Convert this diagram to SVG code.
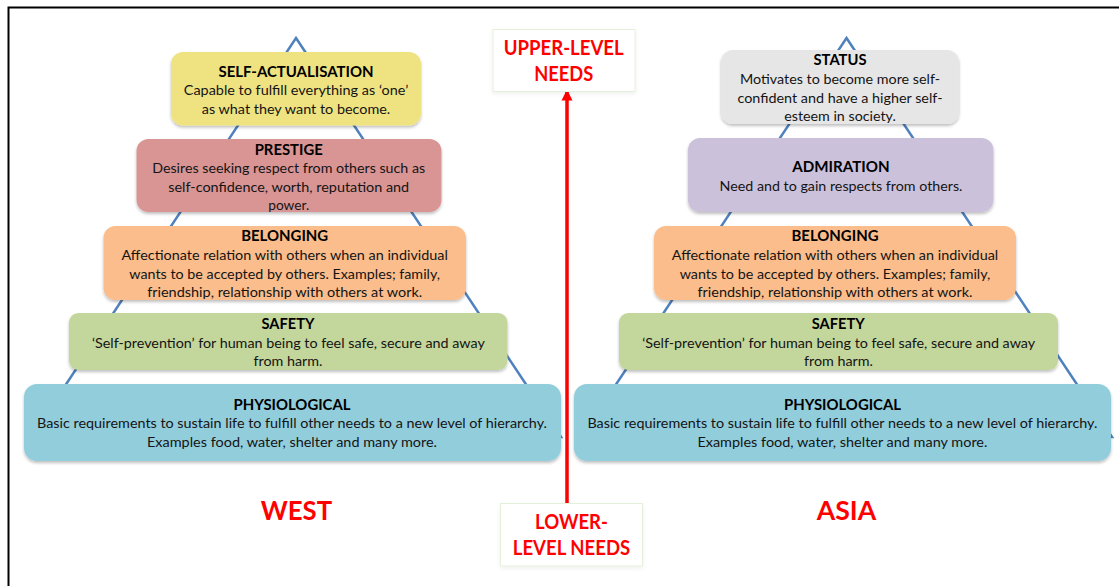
<svg xmlns="http://www.w3.org/2000/svg" width="1119" height="586" viewBox="0 0 1119 586">
<style>
text{font-family:Lato,"Open Sans","Liberation Sans",sans-serif;text-anchor:middle;fill:#141414}
.t{font-size:16px;font-weight:700;fill:#000}
.b{font-size:13.8px}
.r{font-size:20px;font-weight:700;fill:#f00}
.h{font-size:26.5px;font-weight:700;fill:#f00}
.tri{fill:none;stroke:#4f81bd;stroke-width:2.5}
.box{filter:url(#sh)}
.lab{fill:#fff;stroke:#e4f0dc;stroke-width:1;filter:url(#sh2)}
</style>
<defs>
<filter id="sh" x="-5%" y="-10%" width="110%" height="125%"><feDropShadow dx="0" dy="2" stdDeviation="1.5" flood-color="#000" flood-opacity="0.25"/></filter>
<filter id="sh2" x="-10%" y="-10%" width="120%" height="130%"><feDropShadow dx="0" dy="2" stdDeviation="2" flood-color="#000" flood-opacity="0.06"/></filter>
<marker id="ah" markerUnits="userSpaceOnUse" markerWidth="12" markerHeight="12" refX="11" refY="6" orient="auto"><path d="M0,0.5L11,6L0,11.5z" fill="#f00"/></marker>
</defs>
<rect width="1119" height="586" fill="#fff"/>
<path id="frame" d="M8.5,586V7.5H1119" fill="none" stroke="#000" stroke-width="2"/>
<path id="pyramid-west" class="tri" d="M296,38L561,437H31z"/>
<path id="pyramid-asia" class="tri" d="M846.5,38L1112,437H581z"/>
<g id="connectors"><line x1="567" y1="503" x2="567" y2="89.500" stroke="#f00" stroke-width="3.5" marker-end="url(#ah)"/></g>

<g id="west-self-actualisation"><rect class="box" x="171" y="52" width="250" height="73.500" rx="12" fill="#efe381"/>
<text class="t" x="296" y="76.500" textLength="155" lengthAdjust="spacingAndGlyphs">SELF-ACTUALISATION</text>
<text class="b" x="296" y="95" textLength="224.500" lengthAdjust="spacingAndGlyphs">Capable to fulfill everything as ‘one’</text>
<text class="b" x="296" y="114" textLength="188.500" lengthAdjust="spacingAndGlyphs">as what they want to become.</text></g>

<g id="west-prestige"><rect class="box" x="136.500" y="139" width="305" height="73" rx="12" fill="#d99594"/>
<text class="t" x="288.700" y="154.500" textLength="68" lengthAdjust="spacingAndGlyphs">PRESTIGE</text>
<text class="b" x="288.700" y="173" textLength="273" lengthAdjust="spacingAndGlyphs">Desires seeking respect from others such as</text>
<text class="b" x="288.700" y="191.500" textLength="241" lengthAdjust="spacingAndGlyphs">self-confidence, worth, reputation and</text>
<text class="b" x="288.700" y="210" textLength="41" lengthAdjust="spacingAndGlyphs">power.</text></g>

<g id="west-belonging"><rect class="box" x="103.500" y="226" width="362.500" height="74" rx="12" fill="#fbbd8b"/>
<text class="t" x="284.700" y="241" textLength="87" lengthAdjust="spacingAndGlyphs">BELONGING</text>
<text class="b" x="284.700" y="260" textLength="326.500" lengthAdjust="spacingAndGlyphs">Affectionate relation with others when an individual</text>
<text class="b" x="284.700" y="278.500" textLength="310.700" lengthAdjust="spacingAndGlyphs">wants to be accepted by others. Examples; family,</text>
<text class="b" x="284.700" y="297" textLength="275" lengthAdjust="spacingAndGlyphs">friendship, relationship with others at work.</text></g>

<g id="west-safety"><rect class="box" x="69" y="313" width="438.500" height="57" rx="9.500" fill="#c3d69b"/>
<text class="t" x="288" y="329" textLength="53" lengthAdjust="spacingAndGlyphs">SAFETY</text>
<text class="b" x="288.400" y="348" textLength="393" lengthAdjust="spacingAndGlyphs">‘Self-prevention’ for human being to feel safe, secure and away</text>
<text class="b" x="288" y="366" textLength="69" lengthAdjust="spacingAndGlyphs">from harm.</text></g>

<g id="west-physiological"><rect class="box" x="24" y="384" width="537" height="77" rx="13" fill="#92cddc"/>
<text class="t" x="292" y="410" textLength="117" lengthAdjust="spacingAndGlyphs">PHYSIOLOGICAL</text>
<text class="b" x="292" y="428" textLength="510" lengthAdjust="spacingAndGlyphs">Basic requirements to sustain life to fulfill other needs to a new level of hierarchy.</text>
<text class="b" x="292" y="447" textLength="290" lengthAdjust="spacingAndGlyphs">Examples food, water, shelter and many more.</text></g>

<g id="asia-status"><rect class="box" x="721" y="50" width="238" height="74" rx="12" fill="#e6e6e6"/>
<text class="t" x="840" y="65" textLength="53" lengthAdjust="spacingAndGlyphs">STATUS</text>
<text class="b" x="840" y="84" textLength="200" lengthAdjust="spacingAndGlyphs">Motivates to become more self-</text>
<text class="b" x="840" y="103" textLength="205" lengthAdjust="spacingAndGlyphs">confident and have a higher self-</text>
<text class="b" x="840" y="121" textLength="111.600" lengthAdjust="spacingAndGlyphs">esteem in society.</text></g>

<g id="asia-admiration"><rect class="box" x="688" y="138" width="305.500" height="74" rx="12" fill="#ccc1da"/>
<text class="t" x="841" y="172" textLength="97.400" lengthAdjust="spacingAndGlyphs">ADMIRATION</text>
<text class="b" x="841" y="191" textLength="243" lengthAdjust="spacingAndGlyphs">Need and to gain respects from others.</text></g>

<g id="asia-belonging"><rect class="box" x="654" y="226" width="362" height="74" rx="12" fill="#fbbd8b"/>
<text class="t" x="835" y="241" textLength="87" lengthAdjust="spacingAndGlyphs">BELONGING</text>
<text class="b" x="835" y="260" textLength="326.500" lengthAdjust="spacingAndGlyphs">Affectionate relation with others when an individual</text>
<text class="b" x="835" y="278.500" textLength="310.700" lengthAdjust="spacingAndGlyphs">wants to be accepted by others. Examples; family,</text>
<text class="b" x="835" y="297" textLength="275" lengthAdjust="spacingAndGlyphs">friendship, relationship with others at work.</text></g>

<g id="asia-safety"><rect class="box" x="619" y="313" width="439" height="57" rx="9.500" fill="#c3d69b"/>
<text class="t" x="838.200" y="329" textLength="53" lengthAdjust="spacingAndGlyphs">SAFETY</text>
<text class="b" x="838.700" y="348" textLength="393" lengthAdjust="spacingAndGlyphs">‘Self-prevention’ for human being to feel safe, secure and away</text>
<text class="b" x="838.500" y="366" textLength="69" lengthAdjust="spacingAndGlyphs">from harm.</text></g>

<g id="asia-physiological"><rect class="box" x="574" y="384" width="537" height="77" rx="13" fill="#92cddc"/>
<text class="t" x="842.500" y="410" textLength="117" lengthAdjust="spacingAndGlyphs">PHYSIOLOGICAL</text>
<text class="b" x="842.400" y="428" textLength="510" lengthAdjust="spacingAndGlyphs">Basic requirements to sustain life to fulfill other needs to a new level of hierarchy.</text>
<text class="b" x="842.400" y="447" textLength="290" lengthAdjust="spacingAndGlyphs">Examples food, water, shelter and many more.</text></g>

<g id="upper-level-needs"><rect class="lab" x="493" y="29.500" width="142" height="62"/>
<text class="r" x="563.700" y="55" textLength="120" lengthAdjust="spacingAndGlyphs">UPPER-LEVEL</text>
<text class="r" x="563.700" y="81" textLength="59" lengthAdjust="spacingAndGlyphs">NEEDS</text></g>

<g id="lower-level-needs"><rect class="lab" x="500.500" y="503.500" width="142" height="62.500"/>
<text class="r" x="571.500" y="528.500" textLength="73" lengthAdjust="spacingAndGlyphs">LOWER-</text>
<text class="r" x="571.500" y="555" textLength="117.400" lengthAdjust="spacingAndGlyphs">LEVEL NEEDS</text></g>

<g id="west-label"><text class="h" x="296.400" y="519.500" textLength="71.400" lengthAdjust="spacingAndGlyphs">WEST</text></g>
<g id="asia-label"><text class="h" x="846.400" y="519.500" textLength="59.500" lengthAdjust="spacingAndGlyphs">ASIA</text></g>
</svg>
